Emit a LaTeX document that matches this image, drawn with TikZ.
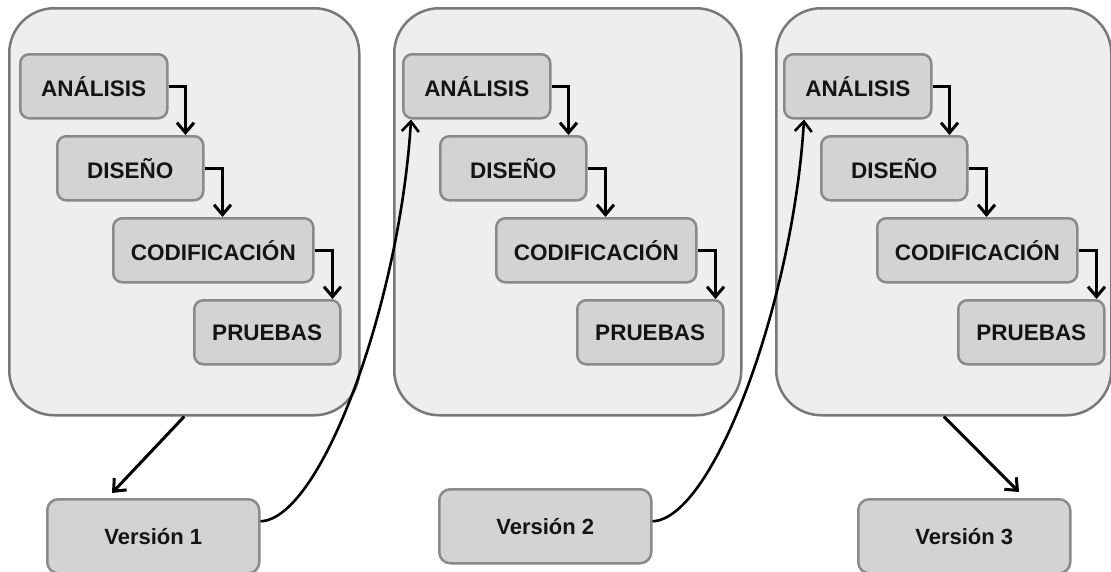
\documentclass[tikz,border=0pt]{standalone}
\usepackage{fontspec}
\setmainfont{Liberation Sans}
\usetikzlibrary{arrows.meta}
\definecolor{fondo}{HTML}{EEEEEE}
\definecolor{borde}{HTML}{787878}
\definecolor{caja}{HTML}{D3D3D3}
\definecolor{bordecaja}{HTML}{8A8A8A}
\begin{document}
\begin{tikzpicture}[x=1pt, y=-1pt,
	>={Straight Barb[length=10pt,width=17pt]},
	bloque/.style={draw=borde, fill=fondo, line width=2.5pt, rounded corners=45pt, anchor=north west, minimum height=407pt},
	fase/.style={draw=bordecaja, fill=caja, line width=2.5pt, rounded corners=9pt, anchor=north west, minimum height=64pt, inner sep=0pt, text=black!92, font=\fontsize{22.5}{27}\selectfont\bfseries},
	version/.style={fase, rounded corners=11pt, minimum width=212pt, minimum height=74pt, font=\fontsize{22}{26}\selectfont\bfseries},
	flecha/.style={->, line width=3pt}]
			\useasboundingbox (0,0) rectangle (1111,571);
			\foreach \i/\bx/\bw/\dx in {1/8/350/0, 2/393/347/383, 3/775/335/764}{
				\node[bloque, minimum width=\bw pt] (bloque\i) at (\bx,7) {};
				\node[fase, minimum width=147pt] (ana\i) at (19+\dx,53) {ANÁLISIS};
				\node[fase, minimum width=146pt] (dis\i) at (56+\dx,135) {DISEÑO};
				\node[fase, minimum width=200pt] (cod\i) at (112+\dx,217) {CODIFICACIÓN};
				\node[fase, minimum width=146pt] (pru\i) at (193+\dx,299) {PRUEBAS};
				\draw[flecha] (ana\i.east) -| ([xshift=17pt]ana\i.east |- dis\i.north);
				\draw[flecha] (dis\i.east) -| ([xshift=18pt]dis\i.east |- cod\i.north);
				\draw[flecha] (cod\i.east) -| ([xshift=18pt]cod\i.east |- pru\i.north);
			}
			\node[version] (ver1) at (46,498) {Versión 1};
			\node[version] (ver2) at (438,488) {Versión 2};
			\node[version] (ver3) at (857,498) {Versión 3};
			\draw[flecha] (bloque1.south) -- ([xshift=66pt,yshift=5pt]ver1.north west);
			\draw[flecha] (bloque3.south) -- ([xshift=162pt,yshift=6pt]ver3.north west);
			\draw[flecha, line width=2.6pt] ([yshift=15pt]ver1.east) .. controls +(61,-2) and +(-11,182) .. ([xshift=9pt]ana2.south west);
			\draw[flecha, line width=2.6pt] ([yshift=5pt]ver2.east) .. controls +(61,-2) and +(-11,182) .. ([xshift=21pt]ana3.south west);
		\end{tikzpicture}
\end{document}
